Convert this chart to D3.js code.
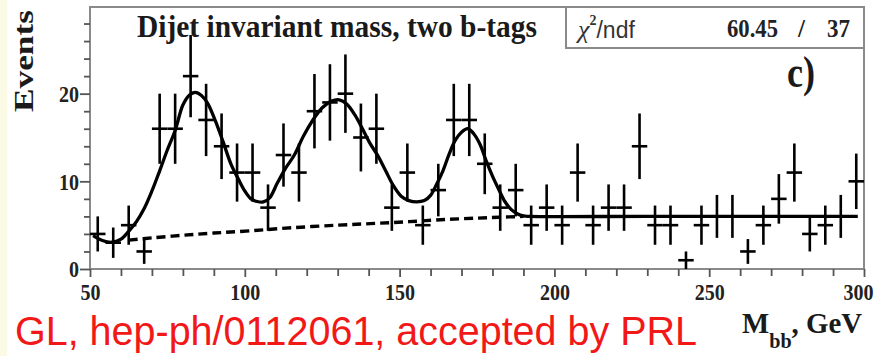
<!DOCTYPE html>
<html>
<head>
<meta charset="utf-8">
<script src="https://cdn.jsdelivr.net/npm/d3@7/dist/d3.min.js"></script>
<style>
  body { margin: 0; background: #fff; }
  svg { display: block; }
</style>
</head>
<body>
<svg id="chart" width="880" height="356"></svg>
<script>
// Dijet invariant mass spectrum, two b-tags: 5 GeV bins from 50 to 300 GeV
const massBins = [
  52.5, 57.5, 62.5, 67.5, 72.5, 77.5, 82.5, 87.5, 92.5, 97.5,
  102.5, 107.5, 112.5, 117.5, 122.5, 127.5, 132.5, 137.5, 142.5, 147.5,
  152.5, 157.5, 162.5, 167.5, 172.5, 177.5, 182.5, 187.5, 192.5, 197.5,
  202.5, 207.5, 212.5, 217.5, 222.5, 227.5, 232.5, 237.5, 242.5, 247.5,
  252.5, 257.5, 262.5, 267.5, 272.5, 277.5, 282.5, 287.5, 292.5, 297.5
];
const events = [
  4, 3, 5, 2, 16, 16, 22, 17, 14, 11,
  11, 7, 13, 11, 18, 19, 20, 15, 16, 7,
  11, 5, 9, 17, 17, 12, 7, 9, 5, 7,
  5, 11, 5, 7, 7, 14, 5, 5, 1, 5,
  6, 6, 2, 5, 8, 11, 4, 5, 6, 10
];
const binHalfWidth = 2.5;

// Total fit (three peaks on top of the background), sampled along the mass axis
const fitMass = [
  51, 54, 57, 60, 62.5, 65, 67.5, 70, 72.5, 75, 77.5, 80, 82, 84, 86, 88, 90.5, 93, 95.5, 98,
  100, 102, 104, 106, 108, 110.5, 113, 116, 119, 122, 125, 128, 130.5, 133, 135.5, 138, 140.5,
  143, 145.5, 148, 150.5, 153, 155.5, 158, 160, 162, 164, 166, 168, 170, 172, 174, 176, 178,
  180, 182, 184, 186, 188, 190, 192, 230, 270, 298
];
const fitValue = [
  3.8, 3.25, 3.05, 3.4, 4.3, 5.4, 6.9, 8.9, 11.2, 13.6, 15.8, 18.7, 19.8, 20.15, 19.8, 18.9, 16.9, 14.5, 12.0, 10.2,
  8.9, 8.0, 7.7, 7.65, 8.1, 9.8, 11.4, 13.0, 15.2, 17.0, 18.4, 19.15, 19.3, 18.8, 17.6, 16.0, 14.3,
  12.9, 11.2, 9.5, 8.3, 7.8, 7.65, 7.8, 8.4, 9.7, 11.2, 13.1, 14.7, 15.6, 16.0, 15.4, 14.2, 12.3,
  10.6, 9.1, 7.7, 6.8, 6.3, 6.05, 6.0, 6.0, 6.0, 6.0
];

// Background component of the fit
const bgMass = [62.5, 70, 80, 90, 101.5, 115, 130, 142, 153, 165, 175, 182, 190];
const bgValue = [3.3, 3.55, 3.85, 4.1, 4.35, 4.7, 5.0, 5.2, 5.4, 5.65, 5.8, 5.9, 6.0];

// Axis ticks
const xMajorTicks = [50, 100, 150, 200, 250, 300];
const xMinorTicks = [60, 70, 80, 90, 110, 120, 130, 140, 160, 170, 180, 190, 210, 220, 230, 240, 260, 270, 280, 290];
const yMajorTicks = [0, 10, 20];
const yMinorTicks = [2, 4, 6, 8, 12, 14, 16, 18, 22, 24, 26, 28];

const chiLabel = "/ndf";
const chiValue = "60.45";
const ndfValue = "37";

const svg = d3.select("#chart");
const frame = { left: 90, right: 864, top: 7, bottom: 269 };

const x = d3.scaleLinear().domain([50, 300]).range([frame.left, frame.right]);
const y = d3.scaleLinear().domain([0, 30]).range([frame.bottom, frame.top - 1]);

// pale margin strip on the left edge
svg.append("rect").attr("x", 0).attr("y", 0).attr("width", 7).attr("height", 356).attr("fill", "#fbfae4");

// frame
svg.append("rect")
  .attr("x", frame.left).attr("y", frame.top)
  .attr("width", frame.right - frame.left).attr("height", frame.bottom - frame.top)
  .attr("fill", "none").attr("stroke", "#8a8a8a").attr("stroke-width", 2);

const serif = "'Liberation Serif', 'Times New Roman', serif";
const sans = "'Liberation Sans', Arial, sans-serif";

// axes
function styleAxis(g) {
  g.select(".domain").remove();
  g.selectAll(".tick line").attr("stroke", "#555").attr("stroke-width", 1.8);
}
svg.append("g").attr("transform", `translate(0,${frame.bottom})`)
  .call(d3.axisBottom(x).tickValues(xMinorTicks).tickSize(7).tickFormat(""))
  .call(styleAxis);
svg.append("g").attr("transform", `translate(0,${frame.bottom})`)
  .call(d3.axisBottom(x).tickValues(xMajorTicks).tickSize(8).tickPadding(6).tickFormat(d3.format("d")))
  .call(styleAxis)
  .call(g => g.selectAll("text")
    .attr("font-family", serif).attr("font-weight", "bold").attr("font-size", 24).attr("fill", "#222")
    .attr("dx", d => d === 300 ? -6 : 0)
    .attr("textLength", d => String(d).length * 10).attr("lengthAdjust", "spacingAndGlyphs"));

svg.append("g").attr("transform", `translate(${frame.left},0)`)
  .call(d3.axisLeft(y).tickValues(yMinorTicks).tickSize(6).tickFormat(""))
  .call(styleAxis);
svg.append("g").attr("transform", `translate(${frame.left},0)`)
  .call(d3.axisLeft(y).tickValues(yMajorTicks).tickSize(10).tickPadding(1).tickFormat(d3.format("d")))
  .call(styleAxis)
  .call(g => g.selectAll("text")
    .attr("font-family", serif).attr("font-weight", "bold").attr("font-size", 24).attr("fill", "#222")
    .attr("textLength", d => String(d).length * 10).attr("lengthAdjust", "spacingAndGlyphs"));

// background fit (dashed)
const line = d3.line().curve(d3.curveCatmullRom.alpha(0.5));
svg.append("path")
  .attr("d", line(bgMass.map((m, i) => [x(m), y(bgValue[i])])))
  .attr("fill", "none").attr("stroke", "#000").attr("stroke-width", 3.4)
  .attr("stroke-dasharray", "9,5");

// total fit
svg.append("path")
  .attr("d", line(fitMass.map((m, i) => [x(m), y(fitValue[i])])))
  .attr("fill", "none").attr("stroke", "#000").attr("stroke-width", 3.3);

// data points with statistical error bars
const pts = svg.append("g").attr("stroke", "#000").attr("stroke-width", 2.6);
massBins.forEach((m, i) => {
  const n = events[i];
  const err = Math.sqrt(n);
  pts.append("line")
    .attr("x1", x(m)).attr("x2", x(m))
    .attr("y1", y(n + err)).attr("y2", y(Math.max(0, n - err)));
  pts.append("line")
    .attr("x1", x(m - binHalfWidth)).attr("x2", x(m + binHalfWidth))
    .attr("y1", y(n)).attr("y2", y(n));
});

// title
svg.append("text").attr("x", 137).attr("y", 37)
  .attr("font-family", serif).attr("font-weight", "bold").attr("font-size", 31)
  .attr("textLength", 400).attr("lengthAdjust", "spacingAndGlyphs").attr("fill", "#1a1a1a")
  .text("Dijet invariant mass, two b-tags");

// fit statistics box
svg.append("rect").attr("x", 566).attr("y", frame.top).attr("width", frame.right - 566).attr("height", 41)
  .attr("fill", "#fff").attr("stroke", "#8a8a8a").attr("stroke-width", 2);
const chi = svg.append("text").attr("x", 578).attr("y", 38).attr("fill", "#333");
chi.append("tspan").attr("font-family", serif).attr("font-style", "italic").attr("font-size", 26).text("χ");
chi.append("tspan").attr("font-family", serif).attr("font-weight", "bold").attr("font-size", 14).attr("dy", -13).text("2");
chi.append("tspan").attr("font-family", sans).attr("font-size", 23).attr("dy", 13).text(chiLabel);
svg.append("text").attr("x", 727).attr("y", 37)
  .attr("font-family", serif).attr("font-weight", "bold").attr("font-size", 25).attr("fill", "#222")
  .attr("textLength", 51).attr("lengthAdjust", "spacingAndGlyphs").text(chiValue);
svg.append("text").attr("x", 798).attr("y", 37)
  .attr("font-family", serif).attr("font-weight", "bold").attr("font-size", 25).attr("fill", "#222").text("/");
svg.append("text").attr("x", 827).attr("y", 37)
  .attr("font-family", serif).attr("font-weight", "bold").attr("font-size", 25).attr("fill", "#222")
  .attr("textLength", 23).attr("lengthAdjust", "spacingAndGlyphs").text(ndfValue);

// panel label
svg.append("text").attr("x", 787).attr("y", 87)
  .attr("font-family", serif).attr("font-weight", "bold").attr("font-size", 44).attr("fill", "#1a1a1a")
  .attr("textLength", 28).attr("lengthAdjust", "spacingAndGlyphs").text("c)");

// y axis title
svg.append("text").attr("transform", "translate(33,61) rotate(-90)").attr("text-anchor", "middle")
  .attr("font-family", serif).attr("font-weight", "bold").attr("font-size", 27).attr("fill", "#1a1a1a")
  .attr("textLength", 102).attr("lengthAdjust", "spacingAndGlyphs").text("Events");

// x axis title: M_bb, GeV
const xTitle = svg.append("text").attr("x", 742).attr("y", 333)
  .attr("font-family", serif).attr("font-weight", "bold").attr("fill", "#1a1a1a");
xTitle.append("tspan").attr("font-size", 30).text("M");
xTitle.append("tspan").attr("font-size", 21).attr("dy", 15).text("bb");
xTitle.append("tspan").attr("font-size", 30).attr("dy", -15).text(", GeV");
xTitle.attr("textLength", 120).attr("lengthAdjust", "spacingAndGlyphs");

// reference note
svg.append("text").attr("x", 15).attr("y", 345)
  .attr("font-family", sans).attr("font-size", 40).attr("fill", "#f21818")
  .attr("textLength", 682).attr("lengthAdjust", "spacingAndGlyphs")
  .text("GL, hep-ph/0112061, accepted by PRL");
</script>
</body>
</html>
